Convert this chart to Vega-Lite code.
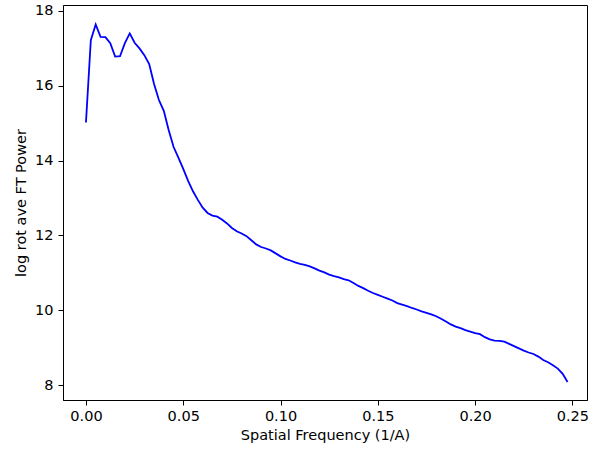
{
  "$schema": "https://vega.github.io/schema/vega-lite/v6.json",
  "width": 524,
  "height": 395,
  "autosize": {"type": "none"},
  "padding": {"left": 63, "top": 5, "right": 2, "bottom": 50},
  "background": "white",
  "config": {
    "view": {"stroke": "black", "strokeWidth": 1},
    "axis": {
      "font": "DejaVu Sans",
      "labelFont": "DejaVu Sans",
      "titleFont": "DejaVu Sans",
      "labelFontSize": 14.5,
      "titleFontSize": 14.5,
      "titleFontWeight": "normal",
      "labelColor": "black",
      "titleColor": "black",
      "tickColor": "black",
      "domainColor": "black",
      "tickSize": 5,
      "tickWidth": 1,
      "domainWidth": 1,
      "grid": false
    }
  },
  "data": {
    "values": [
      {"f": 0.0, "p": 15.02}, {"f": 0.0025, "p": 17.22}, {"f": 0.005, "p": 17.64}, {"f": 0.0075, "p": 17.31},
      {"f": 0.01, "p": 17.3}, {"f": 0.0125, "p": 17.14}, {"f": 0.015, "p": 16.78}, {"f": 0.0175, "p": 16.79},
      {"f": 0.02, "p": 17.14}, {"f": 0.0225, "p": 17.4}, {"f": 0.025, "p": 17.15}, {"f": 0.0275, "p": 17.0},
      {"f": 0.03, "p": 16.82}, {"f": 0.0325, "p": 16.58}, {"f": 0.035, "p": 16.05}, {"f": 0.0375, "p": 15.62},
      {"f": 0.04, "p": 15.33}, {"f": 0.0425, "p": 14.82}, {"f": 0.045, "p": 14.37}, {"f": 0.0475, "p": 14.08},
      {"f": 0.05, "p": 13.78}, {"f": 0.0525, "p": 13.46}, {"f": 0.055, "p": 13.18}, {"f": 0.0575, "p": 12.95},
      {"f": 0.06, "p": 12.74}, {"f": 0.0625, "p": 12.6}, {"f": 0.065, "p": 12.53}, {"f": 0.0675, "p": 12.5},
      {"f": 0.07, "p": 12.42}, {"f": 0.0725, "p": 12.32}, {"f": 0.075, "p": 12.2}, {"f": 0.0775, "p": 12.11},
      {"f": 0.08, "p": 12.05}, {"f": 0.0825, "p": 11.98}, {"f": 0.085, "p": 11.87}, {"f": 0.0875, "p": 11.76},
      {"f": 0.09, "p": 11.69}, {"f": 0.0925, "p": 11.65}, {"f": 0.095, "p": 11.6}, {"f": 0.0975, "p": 11.52},
      {"f": 0.1, "p": 11.44}, {"f": 0.1025, "p": 11.37}, {"f": 0.105, "p": 11.33}, {"f": 0.1075, "p": 11.28},
      {"f": 0.11, "p": 11.24}, {"f": 0.1125, "p": 11.21}, {"f": 0.115, "p": 11.17}, {"f": 0.1175, "p": 11.12},
      {"f": 0.12, "p": 11.06}, {"f": 0.1225, "p": 11.01}, {"f": 0.125, "p": 10.95}, {"f": 0.1275, "p": 10.91},
      {"f": 0.13, "p": 10.88}, {"f": 0.1325, "p": 10.83}, {"f": 0.135, "p": 10.8}, {"f": 0.1375, "p": 10.73},
      {"f": 0.14, "p": 10.65}, {"f": 0.1425, "p": 10.59}, {"f": 0.145, "p": 10.52}, {"f": 0.1475, "p": 10.46},
      {"f": 0.15, "p": 10.41}, {"f": 0.1525, "p": 10.36}, {"f": 0.155, "p": 10.31}, {"f": 0.1575, "p": 10.26},
      {"f": 0.16, "p": 10.19}, {"f": 0.1625, "p": 10.15}, {"f": 0.165, "p": 10.11}, {"f": 0.1675, "p": 10.06},
      {"f": 0.17, "p": 10.02}, {"f": 0.1725, "p": 9.97}, {"f": 0.175, "p": 9.93}, {"f": 0.1775, "p": 9.89},
      {"f": 0.18, "p": 9.84}, {"f": 0.1825, "p": 9.77}, {"f": 0.185, "p": 9.7}, {"f": 0.1875, "p": 9.62},
      {"f": 0.19, "p": 9.56}, {"f": 0.1925, "p": 9.52}, {"f": 0.195, "p": 9.47}, {"f": 0.1975, "p": 9.43},
      {"f": 0.2, "p": 9.39}, {"f": 0.2025, "p": 9.36}, {"f": 0.205, "p": 9.28}, {"f": 0.2075, "p": 9.22},
      {"f": 0.21, "p": 9.19}, {"f": 0.2125, "p": 9.18}, {"f": 0.215, "p": 9.16}, {"f": 0.2175, "p": 9.1},
      {"f": 0.22, "p": 9.04}, {"f": 0.2225, "p": 8.98}, {"f": 0.225, "p": 8.92}, {"f": 0.2275, "p": 8.87},
      {"f": 0.23, "p": 8.83}, {"f": 0.2325, "p": 8.76}, {"f": 0.235, "p": 8.67}, {"f": 0.2375, "p": 8.61},
      {"f": 0.24, "p": 8.53}, {"f": 0.2425, "p": 8.44}, {"f": 0.245, "p": 8.3}, {"f": 0.2475, "p": 8.08}
    ]
  },
  "mark": {"type": "line", "color": "#0000ff", "strokeWidth": 1.8, "clip": true},
  "encoding": {
    "x": {
      "field": "f",
      "type": "quantitative",
      "scale": {"domain": [-0.0118, 0.2575], "nice": false, "zero": false},
      "axis": {
        "title": "Spatial Frequency (1/A)",
        "values": [0, 0.05, 0.1, 0.15, 0.2, 0.25],
        "format": ".2f",
        "labelPadding": 4,
        "titlePadding": 6
      }
    },
    "y": {
      "field": "p",
      "type": "quantitative",
      "scale": {"domain": [7.6, 18.16], "nice": false, "zero": false},
      "axis": {
        "title": "log rot ave FT Power",
        "values": [8, 10, 12, 14, 16, 18],
        "labelPadding": 5,
        "titlePadding": 6
      }
    }
  }
}
